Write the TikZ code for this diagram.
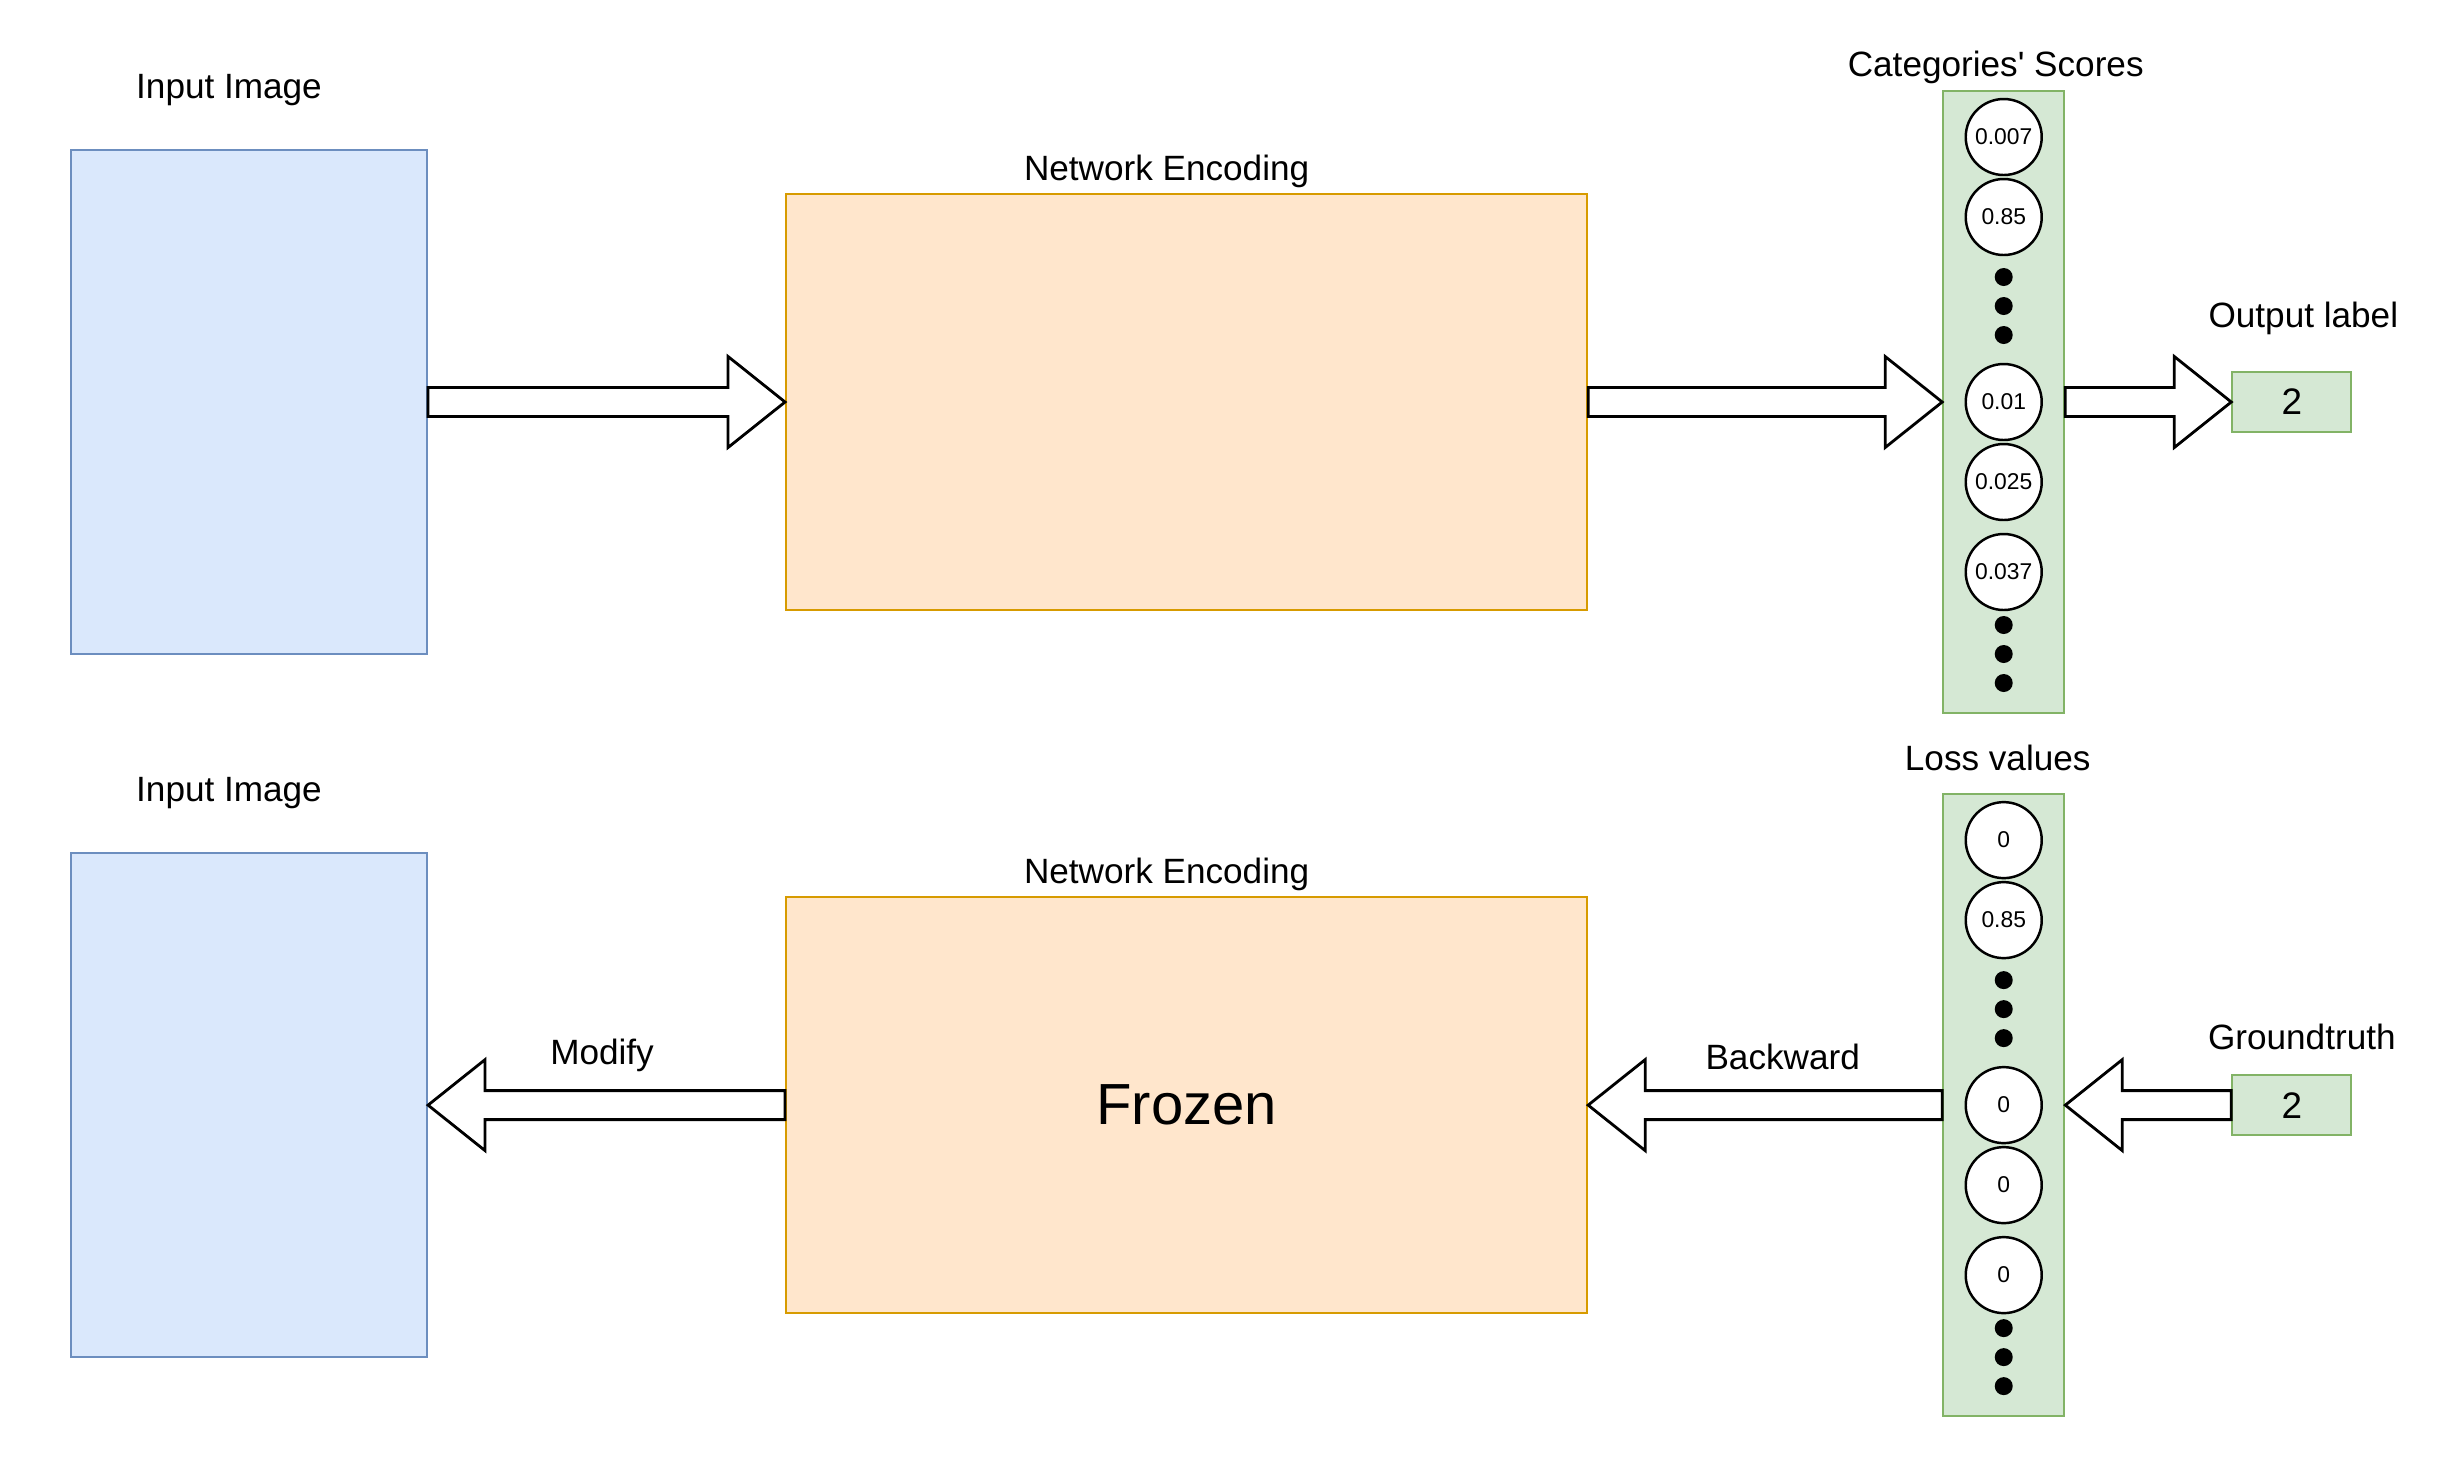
\documentclass[tikz,border=0pt]{standalone}
\usepackage{fontspec}
\setmainfont{Liberation Sans}
\usetikzlibrary{positioning, calc}

\definecolor{imgfill}{HTML}{DAE8FC}
\definecolor{imgline}{HTML}{6C8EBF}
\definecolor{encfill}{HTML}{FFE6CC}
\definecolor{encline}{HTML}{D79B00}
\definecolor{colfill}{HTML}{D5E8D4}
\definecolor{colline}{HTML}{82B366}

% hollow block arrow from #1 (tail) to #2 (tip)
\newcommand{\fatarrow}[2]{%
  \coordinate (hb) at ($(#2)!0.57cm!(#1)$);
  \draw[fatline] ([yshift=0.145cm]#1) -- ([yshift=0.145cm]hb) -- ([yshift=0.455cm]hb) -- (#2)
    -- ([yshift=-0.455cm]hb) -- ([yshift=-0.145cm]hb) -- ([yshift=-0.145cm]#1) -- cycle;}

\begin{document}
\begin{tikzpicture}[
    imgbox/.style={rectangle, draw=imgline, fill=imgfill, line width=0.6pt, minimum width=3.56cm, minimum height=5.04cm},
    encbox/.style={rectangle, draw=encline, fill=encfill, line width=0.6pt, minimum width=8.01cm, minimum height=4.16cm},
    colbox/.style={rectangle, draw=colline, fill=colfill, line width=0.6pt, minimum width=1.21cm, minimum height=6.22cm},
    labelbox/.style={rectangle, draw=colline, fill=colfill, line width=0.6pt, minimum width=1.19cm, minimum height=0.6cm, font=\fontsize{10.5}{12}\selectfont},
    score/.style={circle, draw, fill=white, line width=0.7pt, minimum size=0.76cm, inner sep=0pt, font=\fontsize{6.5}{7}\selectfont},
    caption/.style={inner sep=0pt, text depth=0pt, font=\fontsize{10}{12}\selectfont},
    fatline/.style={draw=black, fill=white, line width=0.8pt, line join=miter}
]
    \useasboundingbox (0,0) rectangle (24.59,-14.74);

    % Blocks (forward pass)
    \node[imgbox] (img1) at (2.49,-4.02) {};
    \node[encbox, right=3.57cm of img1] (enc1) {};
    \node[colbox, right=3.54cm of enc1] (col1) {};
    \node[labelbox, right=1.66cm of col1] (out1) {2};

    % Blocks (backward pass)
    \node[imgbox, below=1.97cm of img1] (img2) {};
    \node[encbox, right=3.57cm of img2, font=\fontsize{16.5}{19}\selectfont] (enc2) {Frozen};
    \node[colbox, right=3.54cm of enc2] (col2) {};
    \node[labelbox, right=1.66cm of col2] (gt2) {2};

    % Captions
    \node[caption, above=0.5cm of img1, xshift=-0.2cm] (img1-label) {Input Image};
    \node[caption, above=0.12cm of enc1, xshift=-0.2cm] (enc1-label) {Network Encoding};
    \node[caption, above=0.13cm of col1, xshift=-0.08cm] (col1-label) {Categories\textquotesingle\ Scores};
    \node[caption, above=0.43cm of out1, xshift=0.115cm] (out1-label) {Output label};
    \node[caption, above=0.5cm of img2, xshift=-0.2cm] (img2-label) {Input Image};
    \node[caption, above=0.12cm of enc2, xshift=-0.2cm] (enc2-label) {Network Encoding};
    \node[caption, above=0.22cm of col2, xshift=-0.06cm] (col2-label) {Loss values};
    \node[caption, above=0.24cm of gt2, xshift=0.1cm] (gt2-label) {Groundtruth};

    % Scores and losses
    \foreach \v/\dy [count=\i] in {0.007/2.65, 0.85/1.85, 0.01/0, 0.025/-0.8, 0.037/-1.7}
        \node[score] (s\i) at ($(col1)+(0,\dy)$) {\v};
    \foreach \v/\dy [count=\i] in {0/2.65, 0.85/1.85, 0/0, 0/-0.8, 0/-1.7}
        \node[score] (l\i) at ($(col2)+(0,\dy)$) {\v};
    \foreach \dy in {1.25, 0.96, 0.67, -2.23, -2.52, -2.81} {
        \fill ($(col1)+(0,\dy)$) circle (0.09);
        \fill ($(col2)+(0,\dy)$) circle (0.09);
    }

    % Arrows
    \fatarrow{img1.east}{enc1.west}
    \fatarrow{enc1.east}{col1.west}
    \fatarrow{col1.east}{out1.west}
    \fatarrow{enc2.west}{img2.east}
    \fatarrow{col2.west}{enc2.east}
    \fatarrow{gt2.west}{col2.east}

    \path (enc2.west) -- (img2.east) node[caption, midway, above=0.4cm, xshift=-0.045cm] (modify) {Modify};
    \path (col2.west) -- (enc2.east) node[caption, midway, above=0.35cm, xshift=0.175cm] (backward) {Backward};
\end{tikzpicture}
\end{document}
